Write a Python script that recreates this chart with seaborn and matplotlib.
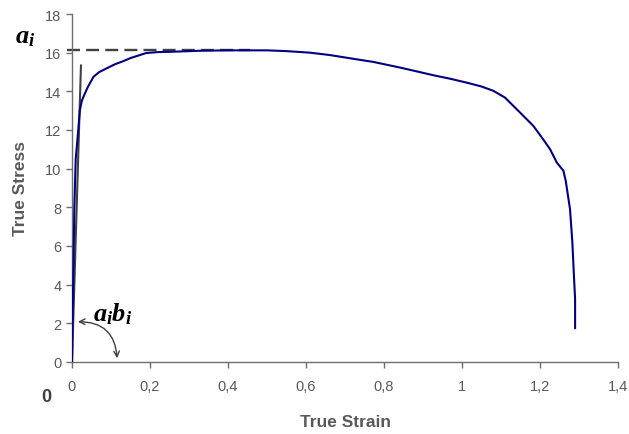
import matplotlib
matplotlib.use("Agg")
import matplotlib.pyplot as plt
from matplotlib.ticker import FuncFormatter
import seaborn as sns
import pandas as pd

# Measured true stress-strain curve
strain = [0, 0.003, 0.006, 0.0095, 0.013, 0.016, 0.02, 0.025, 0.03, 0.04, 0.055,
          0.07, 0.09, 0.11, 0.13, 0.15, 0.17, 0.19, 0.22, 0.26, 0.33, 0.4,
          0.5, 0.55, 0.61, 0.66, 0.713, 0.773, 0.841, 0.88, 0.927, 0.97, 1.012,
          1.05, 1.08, 1.11, 1.149, 1.183, 1.208, 1.226, 1.243, 1.26, 1.266,
          1.277, 1.283, 1.287, 1.29, 1.29]
stress = [0, 4, 8, 10.5, 11.3, 12.0, 13.0, 13.5, 13.75, 14.2, 14.75,
          15.0, 15.2, 15.4, 15.55, 15.72, 15.85, 15.98, 16.03, 16.05, 16.1, 16.12,
          16.12, 16.08, 16.0, 15.88, 15.71, 15.52, 15.23, 15.05, 14.83, 14.65, 14.45,
          14.25, 14.03, 13.68, 12.9, 12.21, 11.52, 11.0, 10.32, 9.89, 9.37,
          7.9, 6.18, 4.46, 3.26, 1.74]

# Elastic slope line and saturation stress level
elastic_strain = [0, 0.023]
elastic_stress = [0, 15.35]
sat_strain = [-0.013, 0.456]
sat_stress = [16.12, 16.12]

x_ticks = [0, 0.2, 0.4, 0.6, 0.8, 1.0, 1.2, 1.4]
y_ticks = [0, 2, 4, 6, 8, 10, 12, 14, 16, 18]

sns.set_style("ticks")
plt.rcParams["font.family"] = ["Liberation Sans", "DejaVu Sans"]
plt.rcParams["mathtext.fontset"] = "custom"
plt.rcParams["mathtext.it"] = "Liberation Serif:italic:bold"
plt.rcParams["mathtext.rm"] = "Liberation Serif:bold"

fig = plt.figure(figsize=(6.29, 4.35), dpi=100)
ax = fig.add_axes([72 / 629, 1 - 363 / 435, 546 / 629, 348 / 435])

curve = pd.DataFrame({"strain": strain, "stress": stress})
sns.lineplot(data=curve, x="strain", y="stress", sort=False, estimator=None,
             color="#000080", linewidth=1.5, ax=ax, zorder=3)
sns.lineplot(x=elastic_strain, y=elastic_stress, sort=False, estimator=None,
             color="#404040", linewidth=1.5, ax=ax, zorder=2)
ax.plot(sat_strain, sat_stress, color="#404040", linewidth=1.7,
        dashes=(5.5, 2.6), clip_on=False, zorder=2)

ax.set_xlim(0, 1.4)
ax.set_ylim(0, 18)
ax.set_xticks(x_ticks)
ax.set_yticks(y_ticks)
comma = FuncFormatter(lambda v, p: ("%g" % v).replace(".", ","))
ax.xaxis.set_major_formatter(comma)
ax.yaxis.set_major_formatter(comma)

grey = "#595959"
for side in ("top", "right"):
    ax.spines[side].set_visible(False)
for side in ("left", "bottom"):
    ax.spines[side].set_color("#6e6e6e")
    ax.spines[side].set_linewidth(1.0)
ax.tick_params(axis="both", colors="#6e6e6e", labelcolor=grey, labelsize=10.5,
               length=4, width=1.0, direction="out")
ax.tick_params(axis="x", pad=8)

ax.set_xlabel("True Strain", fontsize=12.5, fontweight="bold", color=grey, va="center")
ax.set_ylabel("True Stress", fontsize=12.5, fontweight="bold", color=grey, va="center")
ax.xaxis.set_label_coords(0.5, (363 - 423) / 348)
ax.yaxis.set_label_coords((21 - 72) / 546, 0.5)

# Annotations
fig.text(25 / 629, 1 - 37 / 435, r"$a_i$", fontsize=19, ha="center", va="center",
         color="black")
ax.text(0.105, 2.5, r"$a_i b_i$", fontsize=19, ha="center", va="center",
        color="black")
fig.text(46 / 629, 1 - 398 / 435, "0", fontsize=13, fontweight="bold",
         color="#404040", ha="center", va="center")
ax.annotate("", xy=(0.008, 2.08), xytext=(0.116, 0.05),
            arrowprops=dict(arrowstyle="<->", color="#404040", lw=1.0,
                            connectionstyle="arc3,rad=0.5"),
            annotation_clip=False)

fig.savefig("out.png", dpi=100)
